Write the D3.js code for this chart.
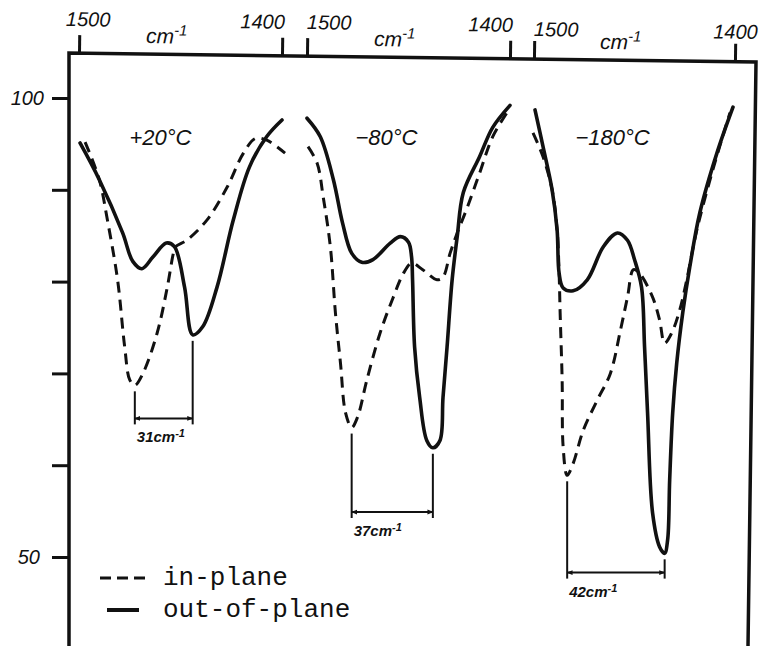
<!DOCTYPE html>
<html>
<head>
<meta charset="utf-8">
<script src="https://cdn.jsdelivr.net/npm/d3@7"></script>
<style>
    body { margin: 0; background: #fff; }
    .hand { font-family: "Liberation Sans", "DejaVu Sans", sans-serif; font-style: italic; fill: #111; }
    .mono { font-family: "Liberation Mono", "DejaVu Sans Mono", monospace; fill: #111; }
</style>
</head>
<body>
<div id="chart"></div>
<script>
// temperatures, one panel each
var temps = ["+20°C", "\u221280°C", "\u2212180°C"];
var xTicks = [1500, 1400];
var yTicks = [100, 90, 80, 70, 60, 50];
var yLabels = [100, 50];

// [wavenumber cm-1, transmittance %]
var inPlane20 = [[1497, 95.2], [1490, 91.1], [1486, 86.7], [1481, 80.2], [1477.5, 72.9], [1475, 69.3], [1472.5, 68.7],
    [1468.5, 70.0], [1461.5, 74.4], [1456.5, 79.4], [1453.5, 83.1], [1452.5, 83.8], [1447, 84.5], [1437, 86.7],
    [1427, 90.3], [1419, 94.0], [1413, 95.6], [1407.5, 95.4], [1398.5, 94.0]];
var outPlane20 = [[1499.5, 95.1], [1490, 91.1], [1478.5, 85.3], [1473.5, 82.2], [1469, 81.4], [1463.5, 82.7],
    [1457, 84.2], [1453, 83.8], [1448, 79.4], [1444, 74.2], [1439, 75.1], [1432, 79.4], [1424, 86.7],
    [1416, 92.5], [1407.5, 95.8], [1400, 97.6]];
var inPlane80 = [[1499.5, 94.7], [1495, 92.9], [1492, 89.2], [1488.5, 83.8], [1486, 76.6], [1483.5, 71.1],
    [1481, 65.7], [1478, 64.1], [1475, 65.3], [1470.5, 69.3], [1464, 74.4], [1457.5, 78.3], [1452.5, 80.9],
    [1448.5, 82.0], [1443, 81.3], [1436, 80.2], [1433, 80.5], [1429.5, 83.1], [1426, 85.3], [1421, 88.1],
    [1415, 91.8], [1408.5, 95.8], [1401.5, 98.4]];
var outPlane80 = [[1500, 97.8], [1493.5, 95.8], [1487, 91.1], [1482.5, 86.4], [1478, 83.1], [1473, 82.1],
    [1467.5, 82.4], [1459, 84.2], [1454, 84.9], [1450, 84.3], [1448.5, 82.7], [1448, 80.2], [1447, 72.9],
    [1444.5, 67.4], [1441, 62.7], [1438, 61.9], [1434.5, 62.7], [1433, 67.4], [1431, 72.9], [1428.5, 80.2],
    [1426, 84.9], [1423, 89.7], [1415, 93.6], [1408.5, 96.8], [1400, 99.2]];
var inPlane180 = [[1500.5, 96.2], [1495.5, 93.6], [1491, 90.0], [1488.5, 85.6], [1487.5, 80.9], [1487, 76.6],
    [1486, 69.3], [1485.5, 62.0], [1483.5, 58.9], [1480.5, 60.2], [1475.5, 63.8], [1468.5, 67.1], [1462, 70.0],
    [1457, 74.7], [1453.5, 78.3], [1450.5, 81.3], [1447.5, 80.9], [1441, 78.3], [1437.5, 75.8], [1435, 73.3],
    [1431.5, 74.4], [1427.5, 76.9], [1424, 80.2], [1419, 85.6], [1411, 92.2], [1402.5, 98.4]];
var outPlane180 = [[1499.5, 98.7], [1495.5, 94.7], [1491, 90.0], [1488.5, 85.6], [1487.5, 80.9], [1485.5, 79.3],
    [1480.5, 79.0], [1473.5, 80.2], [1465.5, 83.8], [1458.5, 85.3], [1453.5, 84.5], [1450, 82.4], [1446.5, 79.4],
    [1445, 72.9], [1443.5, 65.7], [1441, 54.8], [1437.5, 51.1], [1435, 50.4], [1433.5, 51.9], [1432.5, 58.4],
    [1431, 65.7], [1429, 71.1], [1426, 76.6], [1422.5, 81.6], [1417.5, 87.5], [1409, 94.0], [1401, 99.0]];

// peak splitting annotations
var splitText = ["31", "37", "42"];
var splitLevel = [65.1, 54.9, 48.3];

(function () {
    var width = 762,
        height = 646;

    var inPlane = [inPlane20, inPlane80, inPlane180];
    var outPlane = [outPlane20, outPlane80, outPlane180];
    var panelRange = [[79, 282], [307, 510], [534, 735]];

    var y = d3.scaleLinear().domain([100, 50]).range([98, 557]);
    var xs = panelRange.map(function (r) {
        return d3.scaleLinear().domain([1500, 1400]).range(r);
    });

    var svg = d3.select("#chart")
        .append("svg")
        .attr("width", width)
        .attr("height", height)
        .style("background", "#fff");

    var defs = svg.append("defs");
    ["arrEnd", "arrStart"].forEach(function (id, i) {
        defs.append("marker")
            .attr("id", id)
            .attr("viewBox", "0 0 10 10")
            .attr("refX", i ? 1 : 9).attr("refY", 5)
            .attr("markerWidth", 6).attr("markerHeight", 6)
            .attr("markerUnits", "userSpaceOnUse")
            .attr("orient", "auto")
            .append("path")
            .attr("d", i ? "M10,1 L0,5 L10,9 z" : "M0,1 L10,5 L0,9 z")
            .attr("fill", "#111");
    });

    // frame (hand drawn, a bit skewed)
    svg.append("path")
        .attr("d", "M69,646 L69,53 L756,62 L748,646")
        .attr("fill", "none")
        .attr("stroke", "#111")
        .attr("stroke-width", 3.5);

    // top axes, tilted like the scan
    var top = svg.append("g")
        .attr("transform", "rotate(0.75,69,53) translate(0,53)");

    xs.forEach(function (x, i) {
        var ax = top.append("g")
            .call(d3.axisTop(x).tickValues(xTicks).tickSize(18).tickPadding(9).tickFormat(d3.format("d")));
        ax.select(".domain").remove();
        ax.selectAll(".tick line").attr("stroke", "#111").attr("stroke-width", 3);
        ax.selectAll(".tick text")
            .attr("class", "hand")
            .attr("font-size", 20)
            .attr("text-anchor", function (d) { return d === 1500 ? "start" : "end"; })
            .attr("dx", function (d) { return d === 1500 ? (i === 0 ? -14 : -1) : (i === 2 ? 22 : 2); })
            .attr("dy", i === 2 ? 4 : 0);

        var unit = top.append("text")
            .attr("class", "hand")
            .attr("x", x(1450) - 14)
            .attr("y", -11)
            .attr("text-anchor", "middle")
            .attr("font-size", 21)
            .text("cm");
        unit.append("tspan")
            .attr("dy", -8)
            .attr("font-size", 15)
            .text("-1");
    });

    // left axis
    var left = svg.append("g")
        .attr("transform", "translate(69,0)")
        .call(d3.axisLeft(y).tickValues(yTicks).tickSize(17).tickPadding(8)
            .tickFormat(function (d) { return yLabels.indexOf(d) >= 0 ? d : ""; }));
    left.select(".domain").remove();
    left.selectAll(".tick line").attr("stroke", "#111").attr("stroke-width", 3);
    left.selectAll(".tick text")
        .attr("class", "hand")
        .attr("font-size", 20)
        .attr("dx", function (d) { return d === 50 ? -4 : 0; });

    // spectra
    xs.forEach(function (x, i) {
        var line = d3.line()
            .x(function (d) { return x(d[0]); })
            .y(function (d) { return y(d[1]); })
            .curve(d3.curveCatmullRom.alpha(0.5));

        var g = svg.append("g");

        g.append("path")
            .datum(inPlane[i])
            .attr("d", line)
            .attr("fill", "none")
            .attr("stroke", "#111")
            .attr("stroke-width", 3)
            .attr("stroke-dasharray", "11,7");

        g.append("path")
            .datum(outPlane[i])
            .attr("d", line)
            .attr("fill", "none")
            .attr("stroke", "#111")
            .attr("stroke-width", 3.6)
            .attr("stroke-linecap", "round")
            .attr("stroke-linejoin", "round");

        g.append("text")
            .attr("class", "hand")
            .attr("x", x(1450) - (i === 0 ? 20 : 22))
            .attr("y", 145)
            .attr("text-anchor", "middle")
            .attr("font-size", 22)
            .text(temps[i]);

        // splitting between the two band minima
        var a = d3.least(inPlane[i], function (d) { return d[1]; });
        var b = d3.least(outPlane[i], function (d) { return d[1]; });
        var yl = y(splitLevel[i]);

        [a, b].forEach(function (p) {
            g.append("line")
                .attr("x1", x(p[0])).attr("x2", x(p[0]))
                .attr("y1", y(p[1]) + 6).attr("y2", yl + 6)
                .attr("stroke", "#111")
                .attr("stroke-width", 2);
        });

        g.append("line")
            .attr("x1", x(a[0])).attr("x2", x(b[0]))
            .attr("y1", yl).attr("y2", yl)
            .attr("stroke", "#111")
            .attr("stroke-width", 2)
            .attr("marker-start", "url(#arrStart)")
            .attr("marker-end", "url(#arrEnd)");

        var lab = g.append("text")
            .attr("class", "hand")
            .attr("x", x(a[0]) + 2)
            .attr("y", yl + 24)
            .attr("font-size", 15)
            .attr("font-weight", "bold")
            .text(splitText[i] + "cm");
        lab.append("tspan")
            .attr("dy", -5)
            .attr("font-size", 11)
            .text("-1");
    });

    // legend
    var legend = svg.append("g");
    legend.append("line")
        .attr("x1", 100).attr("x2", 146)
        .attr("y1", 578).attr("y2", 578)
        .attr("stroke", "#111")
        .attr("stroke-width", 3)
        .attr("stroke-dasharray", "11,6");
    legend.append("line")
        .attr("x1", 107).attr("x2", 139)
        .attr("y1", 610).attr("y2", 610)
        .attr("stroke", "#111")
        .attr("stroke-width", 4);
    legend.append("text")
        .attr("class", "mono")
        .attr("x", 163).attr("y", 585)
        .attr("font-size", 26)
        .text("in-plane");
    legend.append("text")
        .attr("class", "mono")
        .attr("x", 163).attr("y", 617)
        .attr("font-size", 26)
        .text("out-of-plane");
})();
</script>
</body>
</html>
